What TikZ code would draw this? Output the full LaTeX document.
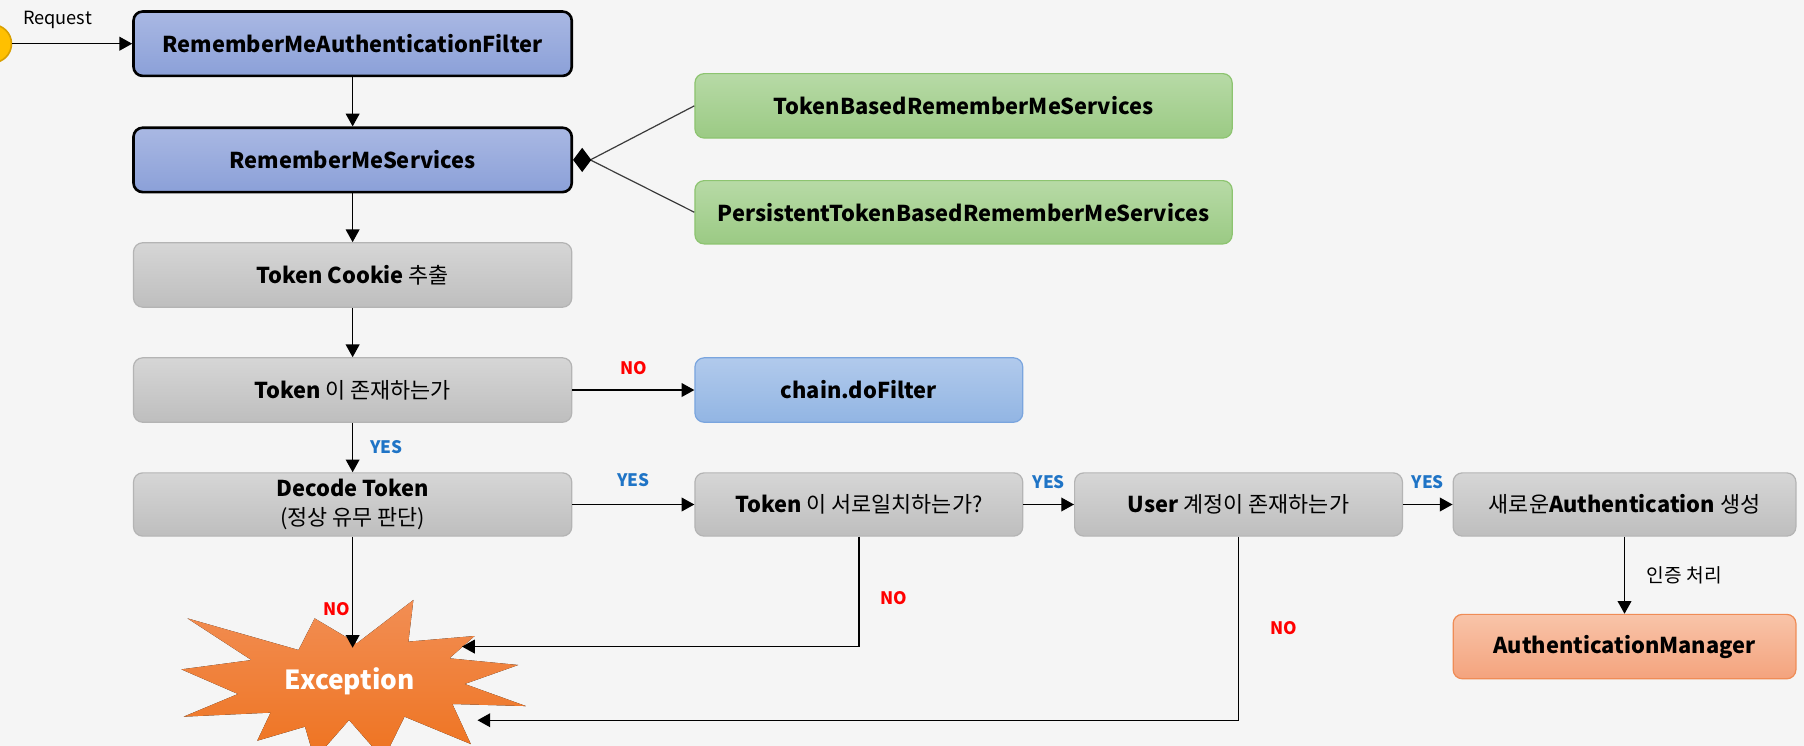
\documentclass[tikz,border=0pt]{standalone}
\usepackage{fontspec}
\setmainfont{Noto Sans CJK KR}
\usetikzlibrary{arrows.meta}

\definecolor{bgcol}{HTML}{F5F5F5}
\definecolor{blueTop}{HTML}{A9B8E3}
\definecolor{blueBot}{HTML}{8BA0D8}
\definecolor{grayTop}{HTML}{D6D6D6}
\definecolor{grayBot}{HTML}{BEBEBE}
\definecolor{grayLine}{HTML}{B4B4B4}
\definecolor{greenTop}{HTML}{B7DAA6}
\definecolor{greenBot}{HTML}{9BCA84}
\definecolor{greenLine}{HTML}{8DC470}
\definecolor{skyTop}{HTML}{B1CAEC}
\definecolor{skyBot}{HTML}{92B5E3}
\definecolor{skyLine}{HTML}{7AA5DE}
\definecolor{peachTop}{HTML}{F8C4A9}
\definecolor{peachBot}{HTML}{F4A37D}
\definecolor{peachLine}{HTML}{EF8C56}
\definecolor{burstTop}{HTML}{F28E54}
\definecolor{burstBot}{HTML}{EE7320}
\definecolor{yesBlue}{HTML}{1F74C6}
\definecolor{noRed}{HTML}{FF0000}
\definecolor{reqYellow}{HTML}{FFC000}
\definecolor{reqEdge}{HTML}{D9A000}
\definecolor{linkGray}{HTML}{3C3C3C}

\newcommand{\boxfont}{\fontsize{10.8}{14.5}\selectfont}

\tikzset{
  box/.style={rounded corners=0.16cm, minimum height=1.12cm, inner sep=0pt,
    align=center, text=black, font=\boxfont},
  bluebox/.style={box, draw=black, line width=1.3pt, top color=blueTop,
    bottom color=blueBot, minimum width=7.62cm, font=\boxfont\bfseries},
  graybox/.style={box, draw=grayLine, line width=0.6pt, top color=grayTop,
    bottom color=grayBot},
  greenbox/.style={box, draw=greenLine, line width=0.6pt, top color=greenTop,
    bottom color=greenBot, minimum width=9.34cm, font=\boxfont\bfseries},
  skybox/.style={box, draw=skyLine, line width=0.6pt, top color=skyTop,
    bottom color=skyBot, minimum width=5.7cm},
  peachbox/.style={box, draw=peachLine, line width=0.6pt, top color=peachTop,
    bottom color=peachBot, minimum width=5.96cm},
  flow/.style={-{Triangle[length=6.3pt,width=6.8pt]}, line width=0.7pt},
  compose/.style={linkGray, line width=0.6pt},
  composetip/.style={-{Diamond[length=9pt,width=12pt]}, black, line width=0.6pt},
  yeslabel/.style={inner sep=1pt, text=yesBlue, font=\fontsize{8.5}{10}\selectfont\bfseries},
  nolabel/.style={inner sep=1pt, text=noRed, font=\fontsize{8.5}{10}\selectfont\bfseries},
}

\begin{document}
\begin{tikzpicture}[x=0.02cm, y=-0.02cm]

    \pgfmathsetmacro{\colMain}{306.5}
    \pgfmathsetmacro{\colImpl}{837.5}
    \pgfmathsetmacro{\colTwo}{746.5}
    \pgfmathsetmacro{\colThree}{1076.5}
    \pgfmathsetmacro{\colFour}{1412}

    \useasboundingbox (0,0) rectangle (1568,648);
    \clip (0,0) rectangle (1568,648);
    \fill[bgcol] (0,0) rectangle (1568,648);

    \fill[top color=burstTop, bottom color=burstBot]
    (163,537.5) -- (218.6,573.7) -- (157.7,581.8) -- (206.9,603.2) --
    (159.7,622.9) -- (235.2,619.4) -- (223.6,643.8) -- (265.1,631.6) --
    (273.4,660) -- (303.4,625.8) -- (333.4,660) -- (351.6,622.9) --
    (409.2,646.7) -- (393.2,611.9) -- (457.1,613.7) -- (403.9,594.5) --
    (450.4,578) -- (390.6,572.2) -- (412.5,552.8) -- (355,557.7) --
    (359.3,521.5) -- (310.1,559.2) -- (273.5,537.5) -- (259.5,565) -- cycle;
    \node[text=white, font=\fontsize{13}{15}\selectfont\bfseries] (exception) at (304,592) {Exception};

    \node[circle, fill=reqYellow, draw=reqEdge, line width=0.8pt, minimum size=0.66cm, inner sep=0pt] (request) at (-6.5,38) {};
    \node[font=\fontsize{9}{11}\selectfont] (requestText) at (50,17) {Request};

    \node[bluebox] (filter) at (\colMain,38) {RememberMeAuthenticationFilter};
    \node[bluebox] (services) at (\colMain,139) {RememberMeServices};
    \node[graybox, minimum width=7.62cm] (cookie) at (\colMain,239) {\textbf{Token Cookie} 추출};
    \node[graybox, minimum width=7.62cm] (exists) at (\colMain,339) {\textbf{Token} 이 존재하는가};
    \node[graybox, minimum width=7.62cm, minimum height=1.1cm] (decode) at (\colMain,438.5) {\textbf{Decode Token}\\(정상 유무 판단)};

    \node[greenbox] (tokenBased) at (\colImpl,92) {TokenBasedRememberMeServices};
    \node[greenbox, minimum height=1.1cm] (persistent) at (\colImpl,184.5) {PersistentTokenBasedRememberMeServices};

    \node[skybox] (doFilter) at (\colTwo,339) {\textbf{chain.doFilter}};
    \node[graybox, minimum width=5.7cm, minimum height=1.1cm] (tokenMatch) at (\colTwo,438.5) {\textbf{Token} 이 서로일치하는가?};
    \node[graybox, minimum width=5.7cm, minimum height=1.1cm] (userCheck) at (\colThree,438.5) {\textbf{User} 계정이 존재하는가};
    \node[graybox, minimum width=5.96cm, minimum height=1.1cm] (newAuth) at (\colFour,438.5) {새로운\textbf{Authentication} 생성};
    \node[peachbox] (authManager) at (\colFour,562) {\textbf{AuthenticationManager}};

    \coordinate (exTop) at (\colMain,563);
    \coordinate (exMid) at (401.6,562);
    \coordinate (exLow) at (415,626);
    \coordinate (joint) at ([xshift=0.3cm]services.east);

    \draw[flow] (request) -- (filter);
    \foreach \from/\to in
    {filter/services,services/cookie,cookie/exists}
    {
      \draw[flow] (\from) -- (\to);
    }

    \draw[compose] (tokenBased.west) -- (joint);
    \draw[compose] (persistent.west) -- (joint);
    \draw[composetip] (joint) -- (services.east);

    \draw[flow] (exists) -- node[midway, right=0.26cm, yeslabel] {YES} (decode);
    \draw[flow] (exists) -- node[midway, above=0.22cm, nolabel] {NO} (doFilter);
    \draw[flow] (decode) -- node[midway, above=0.26cm, yeslabel] {YES} (tokenMatch);
    \draw[flow] (tokenMatch) -- node[midway, above=0.22cm, yeslabel] {YES} (userCheck);
    \draw[flow] (userCheck) -- node[midway, above=0.22cm, yeslabel] {YES} (newAuth);
    \draw[flow] (newAuth) -- node[midway, right=0.26cm, font=\fontsize{9.5}{11}\selectfont] {인증 처리} (authManager);

    \draw[flow] (decode) -- node[pos=0.65, left=0pt, nolabel] {NO} (exTop);
    \draw[flow] (tokenMatch) |- node[pos=0.28, right=0.32cm, nolabel] {NO} (exMid);
    \draw[flow] (userCheck) |- node[pos=0.25, right=0.5cm, nolabel] {NO} (exLow);

  \end{tikzpicture}
\end{document}
